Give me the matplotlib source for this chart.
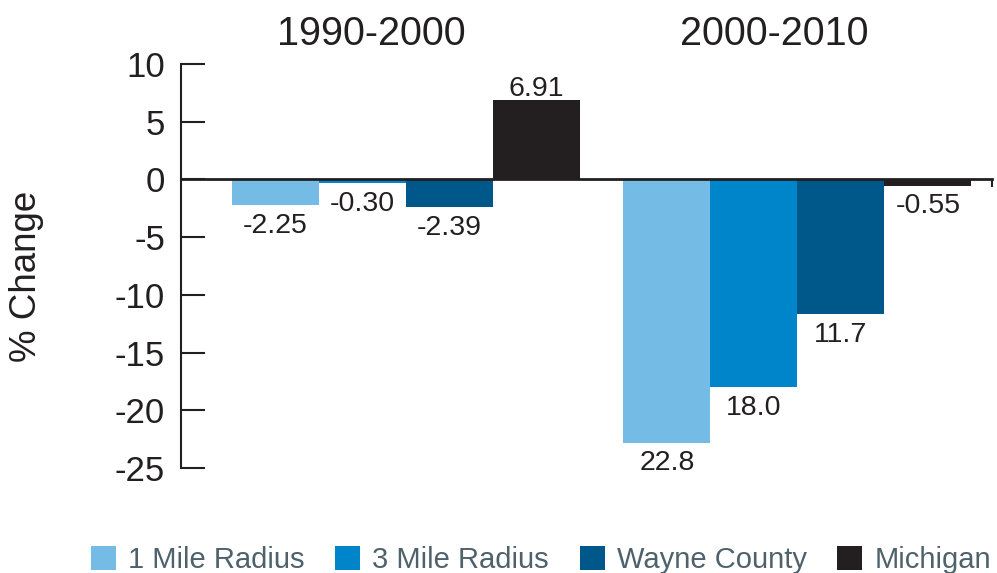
import numpy as np
import matplotlib.pyplot as plt
from matplotlib.patches import Patch


PERIODS = ["1990-2000", "2000-2010"]
SERIES = ["1 Mile Radius", "3 Mile Radius", "Wayne County", "Michigan"]
COLORS = ["#74bbe6", "#0085ca", "#00578a", "#231f20"]

CHANGE_1990_2000 = [-2.25, -0.30, -2.39, 6.91]
CHANGE_2000_2010 = [-22.8, -18.0, -11.7, -0.55]

LABELS_1990_2000 = ["-2.25", "-0.30", "-2.39", "6.91"]
LABELS_2000_2010 = ["22.8", "18.0", "11.7", "-0.55"]

Y_TICKS = [10, 5, 0, -5, -10, -15, -20, -25]

TEXT = "#231f20"
LEGEND_TEXT = "#4f626c"

plt.rcParams["font.family"] = ["Liberation Sans", "DejaVu Sans"]


def main():
    fig = plt.figure(figsize=(9.97, 5.73), dpi=100)
    ax = fig.add_axes([0.1815, 0.1832, 0.8135, 0.7051])

    group_start = [0, 4.5]
    values = [CHANGE_1990_2000, CHANGE_2000_2010]
    labels = [LABELS_1990_2000, LABELS_2000_2010]

    for g in range(len(PERIODS)):
        x = group_start[g] + np.arange(len(SERIES))
        ax.bar(x, values[g], width=1.0, color=COLORS, linewidth=0)
        for xi, v, lab in zip(x, values[g], labels[g]):
            if v < 0:
                ax.annotate(lab, (xi, v), xytext=(0, -5.5),
                            textcoords="offset points", ha="center",
                            va="top", fontsize=20.5, color=TEXT)
            else:
                ax.annotate(lab, (xi, v), xytext=(0, 3),
                            textcoords="offset points", ha="center",
                            va="baseline", fontsize=20.5, color=TEXT)

    # period headers
    title_x = [1.1, 5.73]
    for tx, period in zip(title_x, PERIODS):
        ax.text(tx, 1.047, period, transform=ax.get_xaxis_transform(),
                ha="center", va="baseline", fontsize=28.5, color=TEXT)

    xmax = 8.236
    ax.set_xlim(-1.086, xmax)
    ax.set_ylim(-25, 10)

    ax.spines["top"].set_visible(False)
    ax.spines["right"].set_visible(False)
    ax.spines["left"].set_linewidth(1.5)
    ax.spines["left"].set_color(TEXT)
    ax.spines["bottom"].set_position(("data", 0))
    ax.spines["bottom"].set_linewidth(2)
    ax.spines["bottom"].set_color(TEXT)

    ax.set_yticks(Y_TICKS)
    ax.set_yticklabels([str(t) for t in Y_TICKS])
    ax.tick_params(axis="y", direction="in", length=17, width=1.5,
                   color=TEXT, labelsize=25, labelcolor=TEXT, pad=11.5)

    ax.set_xticks([xmax - 0.005])
    ax.tick_params(axis="x", direction="out", length=6, width=1.5,
                   color=TEXT, labelbottom=False)

    fig.text(27 / 997, 1 - 276 / 573, "% Change", rotation=90,
             ha="center", va="center", fontsize=26.5, color=TEXT)

    handles = [Patch(facecolor=c, edgecolor="none") for c in COLORS]
    fig.legend(handles, SERIES, loc="center",
               bbox_to_anchor=(541 / 997, 1 - 560 / 573), ncol=4,
               frameon=False, fontsize=21, labelcolor=LEGEND_TEXT,
               handlelength=0.86, handleheight=0.86, handletextpad=0.41,
               columnspacing=1.05, borderpad=0, borderaxespad=0)

    fig.savefig("out.png", dpi=100)
    plt.close(fig)


if __name__ == "__main__":
    main()
